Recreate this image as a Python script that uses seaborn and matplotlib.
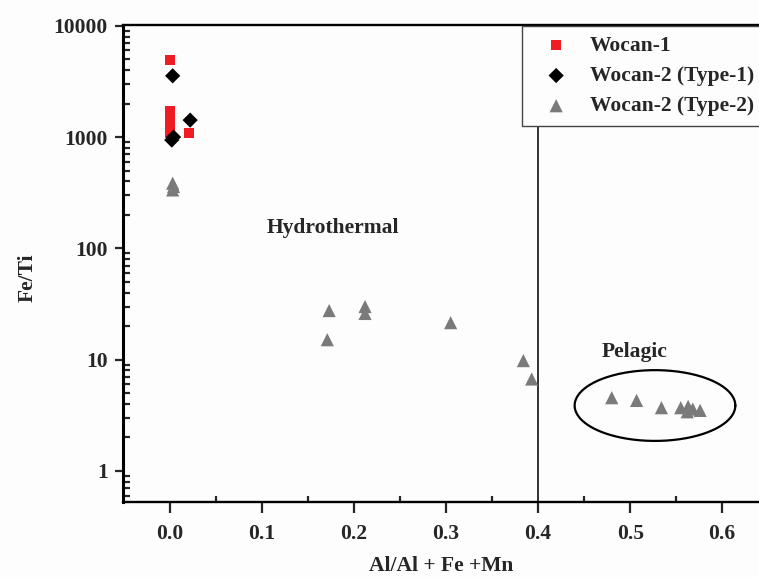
import numpy as np
import pandas as pd
import matplotlib
matplotlib.use("Agg")
import matplotlib.pyplot as plt
import seaborn as sns
from matplotlib.ticker import LogLocator, FixedLocator, NullFormatter

sns.set_style("white")
plt.rcParams['font.family'] = ['Liberation Serif', 'DejaVu Serif']
plt.rcParams['font.weight'] = 'bold'

# ---- data ----
w1_x = [0.0, 0.0, 0.0, 0.0, 0.0, 0.0, 0.001, 0.021]
w1_y = [4900, 1700, 1500, 1350, 1200, 1100, 1000, 1090]

t1_x = [0.003, 0.022, 0.002, 0.004]
t1_y = [3550, 1420, 940, 1000]

t2_x = [0.003, 0.003, 0.004, 0.173, 0.171, 0.212, 0.212, 0.305, 0.384, 0.393,
        0.480, 0.507, 0.534, 0.555, 0.563, 0.562, 0.568, 0.576]
t2_y = [385, 335, 360, 27.6, 15.1, 30, 26, 21.5, 9.8, 6.7,
        4.55, 4.3, 3.7, 3.7, 3.8, 3.4, 3.6, 3.5]

x_ticks = [0.0, 0.1, 0.2, 0.3, 0.4, 0.5, 0.6]
x_ticklabels = ["0.0", "0.1", "0.2", "0.3", "0.4", "0.5", "0.6"]
y_ticks = [1, 10, 100, 1000, 10000]
y_ticklabels = ["1", "10", "100", "1000", "10000"]

groups = ["Wocan-1", "Wocan-2 (Type-1)", "Wocan-2 (Type-2)"]
colors = {"Wocan-1": "#f01c24", "Wocan-2 (Type-1)": "#000000", "Wocan-2 (Type-2)": "#7a7a7a"}
markers = {"Wocan-1": "s", "Wocan-2 (Type-1)": "D", "Wocan-2 (Type-2)": "^"}
sizes = {"Wocan-1": 55, "Wocan-2 (Type-1)": 60, "Wocan-2 (Type-2)": 90}

df = pd.concat([
    pd.DataFrame({"x": w1_x, "y": w1_y, "group": groups[0]}),
    pd.DataFrame({"x": t1_x, "y": t1_y, "group": groups[1]}),
    pd.DataFrame({"x": t2_x, "y": t2_y, "group": groups[2]}),
])

fig = plt.figure(figsize=(7.59, 5.77), dpi=100)
fig.patch.set_facecolor("#fdfdfd")
ax = fig.add_axes([0.162, 0.130, 0.838, 0.827])
ax.set_facecolor("#fdfdfd")

ax.set_yscale("log")
# boundary line
ax.axvline(0.4, color="#222222", lw=1.3, zorder=1)

for g in groups:
    sub = df[df.group == g]
    sns.scatterplot(data=sub, x="x", y="y", ax=ax, color=colors[g], marker=markers[g],
                    s=sizes[g], edgecolor="none", label=g, zorder=3)

# pelagic ellipse
t = np.linspace(0, 2 * np.pi, 300)
cx, cy = 0.527, np.log10(3.87)
ex = cx + 0.0873 * np.cos(t)
ey = 10 ** (cy + 0.318 * np.sin(t))
ax.plot(ex, ey, color="black", lw=1.6, zorder=2)

ax.text(0.177, 151, "Hydrothermal", fontsize=15.5, fontweight="bold", ha="center", va="center")
ax.text(0.505, 11.6, "Pelagic", fontsize=15.5, fontweight="bold", ha="center", va="center")

ax.set_xlim(-0.051, 0.64)
ax.set_ylim(0.526, 10200)

ax.set_xticks(x_ticks)
ax.set_xticklabels(x_ticklabels)
ax.xaxis.set_minor_locator(FixedLocator([0.05, 0.15, 0.25, 0.35, 0.45, 0.55]))
ax.set_yticks(y_ticks)
ax.set_yticklabels(y_ticklabels)
ax.yaxis.set_minor_locator(LogLocator(base=10, subs=np.arange(2, 10), numticks=20))
ax.yaxis.set_minor_formatter(NullFormatter())

ax.tick_params(axis="both", which="both", bottom=True, left=True, top=False, right=False)
ax.tick_params(axis="both", which="major", direction="out", width=1.6, labelsize=15.5)
ax.tick_params(axis="both", which="minor", direction="in", width=1.6)
ax.tick_params(axis="x", which="major", length=8, pad=8)
ax.tick_params(axis="x", which="minor", length=4)
ax.tick_params(axis="y", which="major", pad=5, length=6)
ax.tick_params(axis="y", which="minor", length=5)
for lab in ax.get_xticklabels() + ax.get_yticklabels():
    lab.set_fontweight("bold")

ax.spines["left"].set_linewidth(2.2)
ax.spines["bottom"].set_linewidth(1.7)
ax.spines["top"].set_linewidth(1.7)
for side in ["left", "bottom", "top"]:
    ax.spines[side].set_color("black")
ax.spines["right"].set_visible(False)

ax.set_xlabel("Al/Al + Fe +Mn", fontsize=15.5, fontweight="bold")
ax.xaxis.set_label_coords(0.5, -0.113)
ax.set_ylabel("Fe/Ti", fontsize=15.5, fontweight="bold")
ax.yaxis.set_label_coords(-0.134, 0.47)

leg = ax.legend(loc="upper right", bbox_to_anchor=(1.007, 0.997), frameon=True, fancybox=False,
                prop={"family": "Liberation Serif", "weight": "bold", "size": 15.5},
                borderpad=0.45, labelspacing=0.47, handletextpad=0.4, borderaxespad=0.0,
                handlelength=2.3)
leg.get_frame().set_edgecolor("#444444")
leg.get_frame().set_linewidth(1.0)
leg.get_frame().set_facecolor("#fdfdfd")
leg.get_frame().set_alpha(1)
leg.set_zorder(5)

fig.savefig("out.png", dpi=100, facecolor=fig.get_facecolor())
